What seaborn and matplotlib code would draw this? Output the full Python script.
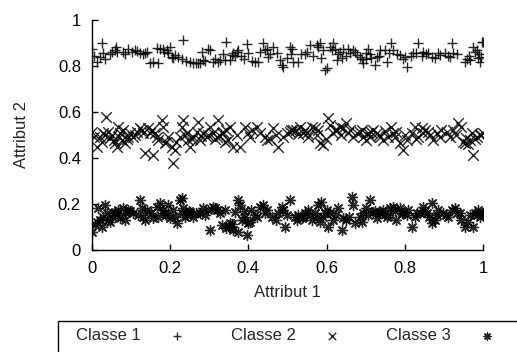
import matplotlib
matplotlib.use("Agg")
import matplotlib.pyplot as plt
from matplotlib.patches import Rectangle
import pandas as pd
import seaborn as sns

# Classe 1 (+)
c1_x = [0.000, 0.026, 0.012, 0.020, 0.033, 0.029, 0.061, 0.063, 0.059, 0.080, 0.093, 0.101, 0.110,
        0.123, 0.136, 0.140, 0.148, 0.157, 0.170, 0.174, 0.182, 0.191, 0.195, 0.199, 0.204, 0.208,
        0.212, 0.234, 0.251, 0.259, 0.276, 0.281, 0.298, 0.302, 0.310, 0.323, 0.327, 0.340, 0.344,
        0.353, 0.357, 0.361, 0.370, 0.374, 0.396, 0.400, 0.417, 0.425, 0.438, 0.442, 0.447, 0.451,
        0.464, 0.472, 0.485, 0.489, 0.506, 0.511, 0.515, 0.528, 0.558, 0.575, 0.579, 0.583, 0.587,
        0.596, 0.600, 0.609, 0.613, 0.617, 0.621, 0.626, 0.634, 0.643, 0.656, 0.668, 0.677, 0.685,
        0.694, 0.702, 0.707, 0.715, 0.724, 0.728, 0.737, 0.749, 0.754, 0.766, 0.771, 0.788, 0.801,
        0.805, 0.822, 0.835, 0.847, 0.860, 0.877, 0.890, 0.903, 0.916, 0.920, 0.924, 0.954, 0.967,
        0.975, 0.980, 0.984, 0.988, 0.992, 0.997, 1.000, 0.045, 0.230, 0.380, 0.545, 0.660, 0.700,
        0.845, 0.965, 0.990, 0.270, 0.290, 0.510, 0.640,
        0.005, 0.050, 0.085, 0.115, 0.130, 0.165, 0.185, 0.220, 0.240, 0.265, 0.285, 0.315, 0.335,
        0.365, 0.390, 0.410, 0.430, 0.455, 0.480, 0.500, 0.535, 0.550, 0.565, 0.590, 0.630, 0.650,
        0.672, 0.690, 0.710, 0.733, 0.760, 0.780, 0.795, 0.815, 0.830, 0.855, 0.870, 0.885, 0.910,
        0.935, 0.960, 0.995]
c1_y = [0.876, 0.898, 0.819, 0.840, 0.829, 0.855, 0.884, 0.862, 0.869, 0.859, 0.872, 0.862, 0.869,
        0.855, 0.855, 0.859, 0.811, 0.819, 0.811, 0.876, 0.876, 0.869, 0.855, 0.884, 0.840, 0.833,
        0.847, 0.913, 0.819, 0.811, 0.811, 0.862, 0.876, 0.869, 0.819, 0.819, 0.826, 0.826, 0.906,
        0.826, 0.847, 0.855, 0.862, 0.869, 0.895, 0.855, 0.819, 0.819, 0.898, 0.869, 0.876, 0.840,
        0.884, 0.855, 0.804, 0.797, 0.884, 0.876, 0.819, 0.819, 0.891, 0.891, 0.884, 0.898, 0.833,
        0.782, 0.790, 0.884, 0.869, 0.898, 0.876, 0.826, 0.862, 0.876, 0.876, 0.869, 0.847, 0.840,
        0.811, 0.855, 0.876, 0.833, 0.804, 0.840, 0.869, 0.869, 0.819, 0.898, 0.869, 0.847, 0.840,
        0.797, 0.855, 0.898, 0.862, 0.858, 0.833, 0.847, 0.855, 0.840, 0.898, 0.855, 0.819, 0.826,
        0.884, 0.862, 0.869, 0.833, 0.819, 0.906, 0.906, 0.850, 0.830, 0.845, 0.850, 0.855, 0.830,
        0.845, 0.845, 0.850, 0.815, 0.820, 0.850, 0.835,
        0.845, 0.860, 0.850, 0.865, 0.850, 0.880, 0.860, 0.840, 0.820, 0.815, 0.825, 0.830, 0.850,
        0.845, 0.830, 0.820, 0.860, 0.850, 0.825, 0.835, 0.850, 0.860, 0.845, 0.870, 0.850, 0.845,
        0.860, 0.830, 0.850, 0.845, 0.855, 0.850, 0.830, 0.845, 0.855, 0.850, 0.840, 0.855, 0.845,
        0.850, 0.830, 0.840]

# Classe 2 (x)
c2_x = [0.000, 0.012, 0.020, 0.029, 0.036, 0.033, 0.042, 0.046, 0.055, 0.059, 0.063, 0.067, 0.072,
        0.076, 0.080, 0.084, 0.093, 0.097, 0.106, 0.114, 0.123, 0.131, 0.136, 0.144, 0.153, 0.157,
        0.161, 0.170, 0.178, 0.182, 0.187, 0.195, 0.204, 0.208, 0.212, 0.225, 0.229, 0.234, 0.242,
        0.246, 0.251, 0.259, 0.268, 0.272, 0.276, 0.285, 0.293, 0.302, 0.310, 0.319, 0.323, 0.332,
        0.336, 0.344, 0.349, 0.353, 0.361, 0.379, 0.391, 0.400, 0.404, 0.421, 0.430, 0.442, 0.447,
        0.464, 0.477, 0.489, 0.498, 0.506, 0.515, 0.523, 0.532, 0.541, 0.545, 0.553, 0.562, 0.570,
        0.579, 0.583, 0.592, 0.604, 0.609, 0.617, 0.626, 0.634, 0.643, 0.651, 0.660, 0.668, 0.677,
        0.685, 0.694, 0.702, 0.707, 0.715, 0.720, 0.728, 0.737, 0.745, 0.758, 0.766, 0.771, 0.779,
        0.788, 0.796, 0.805, 0.818, 0.826, 0.835, 0.843, 0.852, 0.860, 0.873, 0.882, 0.894, 0.907,
        0.916, 0.924, 0.937, 0.945, 0.954, 0.958, 0.967, 0.971, 0.975, 0.984, 0.992, 1.000,
        0.005, 0.025, 0.050, 0.070, 0.090, 0.110, 0.128, 0.148, 0.166, 0.190, 0.215, 0.238, 0.255,
        0.280, 0.298, 0.315, 0.328, 0.340, 0.370, 0.410, 0.455, 0.470, 0.510, 0.528, 0.550, 0.575,
        0.598, 0.622, 0.638, 0.656, 0.690, 0.710, 0.733, 0.750, 0.775, 0.800, 0.830, 0.848, 0.865,
        0.890, 0.930, 0.950, 0.962, 0.980, 0.995]
c2_y = [0.513, 0.448, 0.492, 0.506, 0.579, 0.499, 0.513, 0.484, 0.477, 0.463, 0.448, 0.535, 0.506,
        0.477, 0.521, 0.463, 0.492, 0.506, 0.492, 0.513, 0.528, 0.506, 0.419, 0.528, 0.521, 0.412,
        0.506, 0.477, 0.564, 0.535, 0.463, 0.492, 0.448, 0.376, 0.434, 0.492, 0.535, 0.564, 0.506,
        0.477, 0.448, 0.492, 0.513, 0.557, 0.477, 0.506, 0.492, 0.535, 0.506, 0.492, 0.564, 0.506,
        0.513, 0.521, 0.477, 0.535, 0.448, 0.448, 0.535, 0.506, 0.492, 0.535, 0.506, 0.492, 0.477,
        0.528, 0.448, 0.492, 0.506, 0.513, 0.521, 0.521, 0.535, 0.506, 0.521, 0.492, 0.535, 0.528,
        0.521, 0.463, 0.455, 0.572, 0.542, 0.506, 0.521, 0.535, 0.528, 0.550, 0.521, 0.492, 0.506,
        0.513, 0.492, 0.477, 0.506, 0.513, 0.521, 0.506, 0.492, 0.477, 0.492, 0.535, 0.506, 0.513,
        0.463, 0.434, 0.477, 0.506, 0.535, 0.492, 0.528, 0.521, 0.513, 0.477, 0.506, 0.521, 0.513,
        0.492, 0.521, 0.550, 0.535, 0.463, 0.484, 0.477, 0.506, 0.412, 0.492, 0.499, 0.506,
        0.490, 0.470, 0.500, 0.490, 0.480, 0.500, 0.520, 0.510, 0.490, 0.470, 0.470, 0.500, 0.480,
        0.495, 0.500, 0.480, 0.495, 0.470, 0.500, 0.520, 0.480, 0.500, 0.520, 0.505, 0.510, 0.500,
        0.480, 0.520, 0.500, 0.510, 0.520, 0.490, 0.500, 0.515, 0.490, 0.500, 0.480, 0.510, 0.500,
        0.490, 0.500, 0.470, 0.460, 0.480, 0.500]

# Classe 3 (*)
c3_x = [0.000, 0.008, 0.016, 0.020, 0.029, 0.033, 0.038, 0.042, 0.046, 0.055, 0.059, 0.067, 0.072,
        0.080, 0.084, 0.093, 0.106, 0.123, 0.127, 0.131, 0.140, 0.157, 0.165, 0.174, 0.182, 0.187,
        0.195, 0.199, 0.208, 0.217, 0.225, 0.229, 0.234, 0.242, 0.251, 0.259, 0.276, 0.285, 0.298,
        0.302, 0.310, 0.319, 0.332, 0.340, 0.344, 0.353, 0.361, 0.366, 0.374, 0.379, 0.383, 0.391,
        0.396, 0.400, 0.408, 0.417, 0.430, 0.438, 0.447, 0.460, 0.477, 0.485, 0.489, 0.494, 0.506,
        0.519, 0.528, 0.536, 0.545, 0.553, 0.562, 0.570, 0.579, 0.583, 0.587, 0.592, 0.600, 0.609,
        0.617, 0.630, 0.639, 0.643, 0.651, 0.668, 0.673, 0.685, 0.694, 0.702, 0.711, 0.720, 0.728,
        0.737, 0.745, 0.754, 0.762, 0.771, 0.779, 0.788, 0.796, 0.809, 0.818, 0.826, 0.839, 0.847,
        0.856, 0.869, 0.877, 0.886, 0.899, 0.911, 0.928, 0.941, 0.954, 0.967, 0.975, 0.980, 0.988,
        0.992, 1.000, 0.945, 0.920, 0.869, 0.664, 0.229, 0.374, 0.604,
        0.012, 0.025, 0.050, 0.063, 0.088, 0.098, 0.118, 0.135, 0.150, 0.170, 0.190, 0.213, 0.238,
        0.247, 0.265, 0.290, 0.315, 0.327, 0.350, 0.357, 0.388, 0.405, 0.422, 0.443, 0.470, 0.500,
        0.525, 0.540, 0.558, 0.575, 0.595, 0.625, 0.658, 0.690, 0.705, 0.725, 0.742, 0.758, 0.775,
        0.792, 0.805, 0.832, 0.852, 0.862, 0.882, 0.905, 0.935, 0.962, 0.985, 0.997]
c3_y = [0.078, 0.107, 0.179, 0.129, 0.143, 0.194, 0.158, 0.129, 0.121, 0.158, 0.165, 0.172, 0.136,
        0.179, 0.129, 0.172, 0.158, 0.216, 0.179, 0.143, 0.172, 0.136, 0.187, 0.201, 0.172, 0.158,
        0.194, 0.136, 0.172, 0.114, 0.216, 0.158, 0.179, 0.150, 0.165, 0.143, 0.158, 0.179, 0.172,
        0.085, 0.187, 0.172, 0.107, 0.172, 0.092, 0.114, 0.085, 0.165, 0.216, 0.194, 0.129, 0.143,
        0.063, 0.114, 0.172, 0.150, 0.187, 0.194, 0.172, 0.143, 0.158, 0.187, 0.172, 0.099, 0.216,
        0.143, 0.150, 0.136, 0.158, 0.172, 0.129, 0.158, 0.194, 0.121, 0.209, 0.143, 0.172, 0.158,
        0.129, 0.179, 0.085, 0.136, 0.129, 0.194, 0.114, 0.143, 0.158, 0.179, 0.216, 0.165, 0.136,
        0.158, 0.172, 0.143, 0.179, 0.187, 0.129, 0.179, 0.158, 0.172, 0.099, 0.143, 0.158, 0.187,
        0.158, 0.201, 0.129, 0.172, 0.158, 0.143, 0.179, 0.158, 0.099, 0.150, 0.099, 0.158, 0.172,
        0.143, 0.158, 0.129, 0.172, 0.114, 0.230, 0.223, 0.078, 0.099,
        0.120, 0.100, 0.140, 0.150, 0.160, 0.170, 0.150, 0.130, 0.160, 0.140, 0.150, 0.140, 0.140,
        0.170, 0.160, 0.150, 0.180, 0.160, 0.100, 0.110, 0.170, 0.120, 0.140, 0.160, 0.130, 0.150,
        0.130, 0.140, 0.150, 0.140, 0.160, 0.150, 0.140, 0.120, 0.150, 0.170, 0.160, 0.150, 0.170,
        0.160, 0.150, 0.160, 0.170, 0.140, 0.150, 0.150, 0.160, 0.120, 0.150, 0.160]

class_names = ["Classe 1", "Classe 2", "Classe 3"]
tick_values = [0, 0.2, 0.4, 0.6, 0.8, 1]
tick_labels = ["0", "0.2", "0.4", "0.6", "0.8", "1"]

sns.set_style("ticks")
plt.rcParams["font.family"] = ["Liberation Sans", "DejaVu Sans"]
plt.rcParams["font.size"] = 12

fig = plt.figure(figsize=(5.17, 3.52), dpi=100)
ax = fig.add_axes([0.178, 0.291, 0.756, 0.652])

series = [
    (c1_x, c1_y, class_names[0], "+", 52),
    (c2_x, c2_y, class_names[1], "x", 58),
    (c3_x, c3_y, class_names[2], (8, 2, 0), 52),
]
for xs, ys, name, mk, sz in series:
    df = pd.DataFrame({"Attribut 1": xs, "Attribut 2": ys})
    sns.scatterplot(data=df, x="Attribut 1", y="Attribut 2", marker=mk, s=sz,
                    color="black", linewidth=1.0, alpha=0.85, label=name, ax=ax,
                    legend=False)

ax.set_xlim(0, 1)
ax.set_ylim(0, 1)
ax.set_xticks(tick_values)
ax.set_xticklabels(tick_labels)
ax.set_yticks(tick_values)
ax.set_yticklabels(tick_labels)
ax.tick_params(axis="both", direction="in", length=4, width=1, colors="black", labelsize=12)
ax.tick_params(axis="x", pad=8)
ax.tick_params(axis="y", pad=8)
for side in ("top", "right"):
    ax.spines[side].set_visible(False)
for side in ("left", "bottom"):
    ax.spines[side].set_linewidth(1)
    ax.spines[side].set_color("black")

ax.set_xlabel("Attribut 1", fontsize=12)
ax.set_ylabel("Attribut 2", fontsize=12)
ax.xaxis.set_label_coords(0.5, -0.155)
ax.yaxis.set_label_coords(-0.16, 0.5)

# Legend row below the plot, label first then marker
handles, labels = ax.get_legend_handles_labels()
fig.legend(handles, labels, loc="center left", bbox_to_anchor=(76 / 517, 1 - 336 / 352),
           ncol=3, frameon=False, markerfirst=False, borderpad=0, borderaxespad=0,
           handlelength=1.0, handletextpad=1.7, columnspacing=2.7, fontsize=12,
           markerscale=0.7)
fig.add_artist(Rectangle((58 / 517, -0.2), 1.0, 0.2 + (352 - 321) / 352,
                         transform=fig.transFigure, fill=False, edgecolor="black",
                         linewidth=1, clip_on=False))

fig.savefig("out.png", dpi=100)
